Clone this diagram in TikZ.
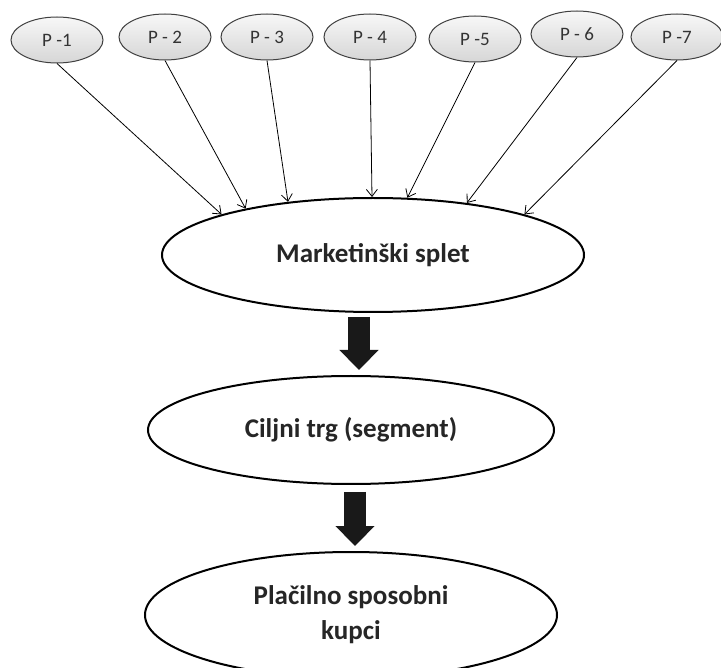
\documentclass[tikz,border=0pt]{standalone}
\usepackage{fontspec}
\setmainfont{Carlito}
\usetikzlibrary{shapes.geometric, arrows.meta}

\begin{document}
\begin{tikzpicture}[x=1pt,y=-1pt,
  pnode/.style={ellipse, draw=black!75, line width=1pt, top color=gray!6, bottom color=gray!32, minimum width=92pt, minimum height=46pt, inner sep=0pt, font=\fontsize{19}{22}\selectfont, text=black!80},
  bignode/.style={ellipse, draw=black, line width=2pt, fill=white, inner sep=0pt, font=\bfseries\fontsize{27}{35}\selectfont, text=black!85, align=center},
  feed/.style={line width=0.8pt, -{Straight Barb[length=7pt,width=11pt]}},
  fat/.style={line width=22pt, draw=black!90, -{Triangle[length=20pt,width=38pt]}}]
\useasboundingbox (0,0) rectangle (721,668);
\node[pnode] (p1) at (57.0000,40.0000) {P -1};
\node[pnode] (p2) at (165.0000,37.0000) {P - 2};
\node[pnode] (p3) at (267.0000,37.0000) {P - 3};
\node[pnode] (p4) at (370.0000,37.0000) {P - 4};
\node[pnode] (p5) at (475.0000,39.0000) {P -5};
\node[pnode] (p6) at (577.0000,34.0000) {P - 6};
\node[pnode] (p7) at (677.0000,37.0000) {P -7};
\node[bignode, minimum width=422pt, minimum height=114pt] (ms) at (373.0000,255.0000) {Marketinški splet};
\node[bignode, minimum width=406pt, minimum height=108pt] (ct) at (351.0000,430.0000) {Ciljni trg (segment)};
\node[bignode, minimum width=412pt, minimum height=126pt] (pk) at (351.0000,615.0000) {Plačilno sposobni\\kupci};
\draw[feed] (p1.south) -- (ms.165);
\draw[feed] (p2.south) -- (ms.160);
\draw[feed] (p3.south) -- (ms.148);
\draw[feed] (p4.south) -- (ms.91);
\draw[feed] (p5.south) -- (ms.59);
\draw[feed] (p6.south) -- (ms.29);
\draw[feed] (p7.south) -- (ms.15);
\draw[fat, shorten <=4pt, shorten >=5pt] ([xshift=-14pt]ms.south) -- ([xshift=8pt]ct.north);
\draw[fat, shorten <=7pt, shorten >=5pt] ([xshift=4pt]ct.south) -- ([xshift=4pt]pk.north);
\end{tikzpicture}
\end{document}
